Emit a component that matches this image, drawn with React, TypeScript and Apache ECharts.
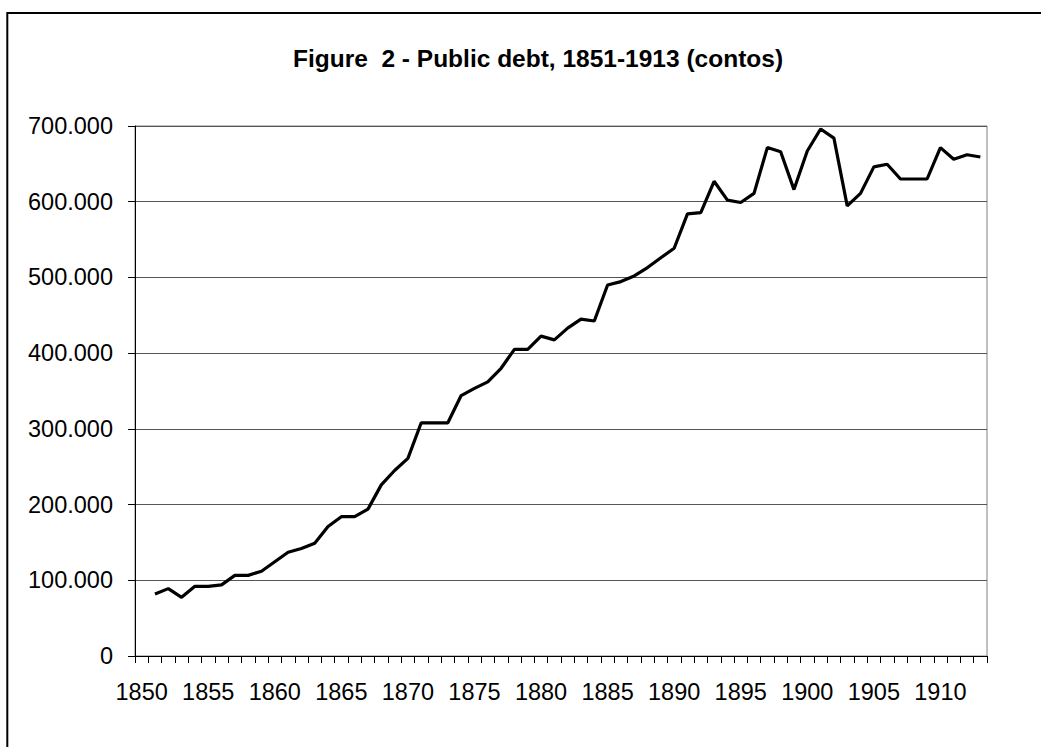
import React, { useEffect, useRef } from "react";
import * as echarts from "echarts";

const years: string[] = [];
for (let y = 1850; y <= 1913; y++) years.push(String(y));

// Public debt in contos, 1851-1913 (1850 has no value)
const debt: (number | null)[] = [
  null,
  82000, 89000, 77500, 92000, 92000, 94000, 106500, 106500, 112000, 124500,
  137000, 142000, 149000, 171000, 184000, 184000, 194000, 226000, 245000, 261000,
  308000, 308000, 308000, 344000, 353500, 362000, 380000, 405000, 405000, 422500,
  417500, 433000, 445000, 442500, 490000, 494500, 502000, 513000, 526000, 538500,
  584000, 585500, 627000, 602000, 599000, 611000, 671500, 666000, 616000, 667000,
  696000, 684000, 594500, 611000, 646000, 649500, 630000, 630000, 630000, 671500,
  656000, 662000, 659000,
];

const yTicks = { min: 0, max: 700000, interval: 100000 };

const FONT = "'Liberation Sans', Arial, sans-serif";

export default function App() {
  const ref = useRef<HTMLDivElement>(null);
  useEffect(() => {
    document.body.style.margin = "0";
    if (!ref.current) return;
    const chart = echarts.init(ref.current, undefined, { renderer: "svg" });
    chart.setOption({
      animation: false,
      backgroundColor: "#ffffff",
      title: {
        text: "Figure  2 - Public debt, 1851-1913 (contos)",
        left: 533,
        top: 41,
        textAlign: "center",
        textStyle: { fontFamily: FONT, fontSize: 24.5, fontWeight: "bold", color: "#000" },
      },
      graphic: [
        {
          type: "rect",
          shape: { x: 7.3, y: 13, width: 1100, height: 800 },
          style: { fill: "none", stroke: "#000", lineWidth: 2 },
          z: 100,
        },
      ],
      grid: {
        left: 135,
        right: 54,
        top: 126,
        bottom: 91,
        show: true,
        borderColor: "#808080",
        borderWidth: 1,
        backgroundColor: "#fff",
      },
      xAxis: {
        type: "category",
        data: years,
        boundaryGap: true,
        axisLine: { lineStyle: { color: "#000", width: 1 } },
        axisTick: { show: true, interval: 0, length: 7, lineStyle: { color: "#000", width: 1 } },
        axisLabel: {
          interval: 4,
          margin: 24,
          fontFamily: FONT,
          fontSize: 23.5,
          color: "#000",
        },
        splitLine: { show: false },
      },
      yAxis: {
        type: "value",
        min: yTicks.min,
        max: yTicks.max,
        interval: yTicks.interval,
        axisLine: { show: true, lineStyle: { color: "#000", width: 1 } },
        axisTick: { show: true, length: 7, lineStyle: { color: "#000" } },
        axisLabel: {
          margin: 22,
          fontFamily: FONT,
          fontSize: 23.5,
          color: "#000",
          formatter: (v: number) => (v === 0 ? "0" : `${v / 1000}.000`),
        },
        splitLine: { show: true, lineStyle: { color: "#555", width: 1 } },
      },
      series: [
        {
          type: "line",
          data: debt,
          showSymbol: false,
          symbol: "none",
          lineStyle: { color: "#000", width: 3.2 },
          connectNulls: false,
        },
      ],
    });
    return () => chart.dispose();
  }, []);
  return <div ref={ref} style={{ width: 1041, height: 747 }} />;
}
